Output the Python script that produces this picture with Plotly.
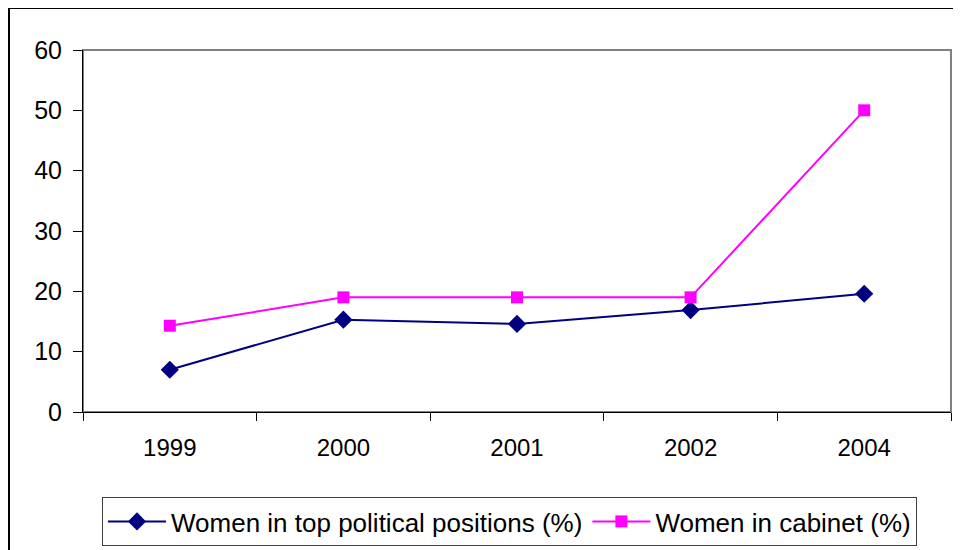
import plotly.graph_objects as go

years = ["1999", "2000", "2001", "2002", "2004"]
top_positions = [7.0, 15.3, 14.6, 16.9, 19.6]
cabinet = [14.3, 19.0, 19.0, 19.0, 50.0]
y_ticks = [0, 10, 20, 30, 40, 50, 60]

# page has an 8px body margin; figure sized to fit the 961x550 window
OFF = 8
W, H = 961 - OFF, 550 - OFF
# plot area in page pixels: x 83..951, y 50..412
L, R, T, B = 83 - OFF, 961 - 951, 50 - OFF, 550 - 412
pw = W - L - R
ph = H - T - B

def px(x):  # page pixel -> paper x
    return (x - OFF - L) / pw

def py(y):  # page pixel -> paper y
    return (H - B - (y - OFF)) / ph

def cx(x):  # page pixel -> container x
    return (x - OFF) / W

def cy(y):  # page pixel -> container y
    return 1 - (y - OFF) / H

fig = go.Figure()
fig.add_trace(go.Scatter(
    x=years, y=top_positions, mode="lines+markers",
    name="Women in top political positions (%)",
    line=dict(color="#000080", width=2),
    marker=dict(symbol="diamond", size=14, color="#000080"),
))
fig.add_trace(go.Scatter(
    x=years, y=cabinet, mode="lines+markers",
    name="Women in cabinet (%)",
    line=dict(color="#FF00FF", width=2),
    marker=dict(symbol="square", size=12, color="#FF00FF"),
))

fig.update_layout(
    width=W, height=H,
    margin=dict(l=L, r=R, t=T, b=B, autoexpand=False),
    paper_bgcolor="white", plot_bgcolor="white",
    font=dict(family="Liberation Sans, Arial, sans-serif", size=24, color="black"),
    showlegend=True,
    legend=dict(
        orientation="h", xref="container", yref="container",
        x=cx(102), xanchor="left", y=cy(497), yanchor="top",
        bordercolor="#404040", borderwidth=1, font=dict(size=26),
        itemwidth=58, tracegroupgap=0,
    ),
    xaxis=dict(
        type="category", range=[-0.5, 4.5], tickson="boundaries",
        ticks="outside", ticklen=8, tickcolor="black", tickwidth=1,
        showline=True, linecolor="black", linewidth=1, showgrid=False,
        zeroline=False, tickfont=dict(size=24), ticklabelstandoff=14,
    ),
    yaxis=dict(
        range=[0, 60], tickvals=y_ticks, ticks="outside", ticklen=9,
        tickcolor="black", tickwidth=1,
        showline=True, linecolor="black", linewidth=1, showgrid=False,
        zeroline=False, tickfont=dict(size=25), ticklabelstandoff=6,
    ),
    shapes=[
        dict(type="rect", xref="paper", yref="paper", x0=0, x1=1, y0=0, y1=1,
             line=dict(color="#808080", width=2), layer="below"),
        dict(type="rect", xref="paper", yref="paper", x0=px(9), x1=px(1000),
             y0=py(600), y1=py(8), line=dict(color="black", width=2), layer="below"),
    ],
)

fig.write_html("out.html")
